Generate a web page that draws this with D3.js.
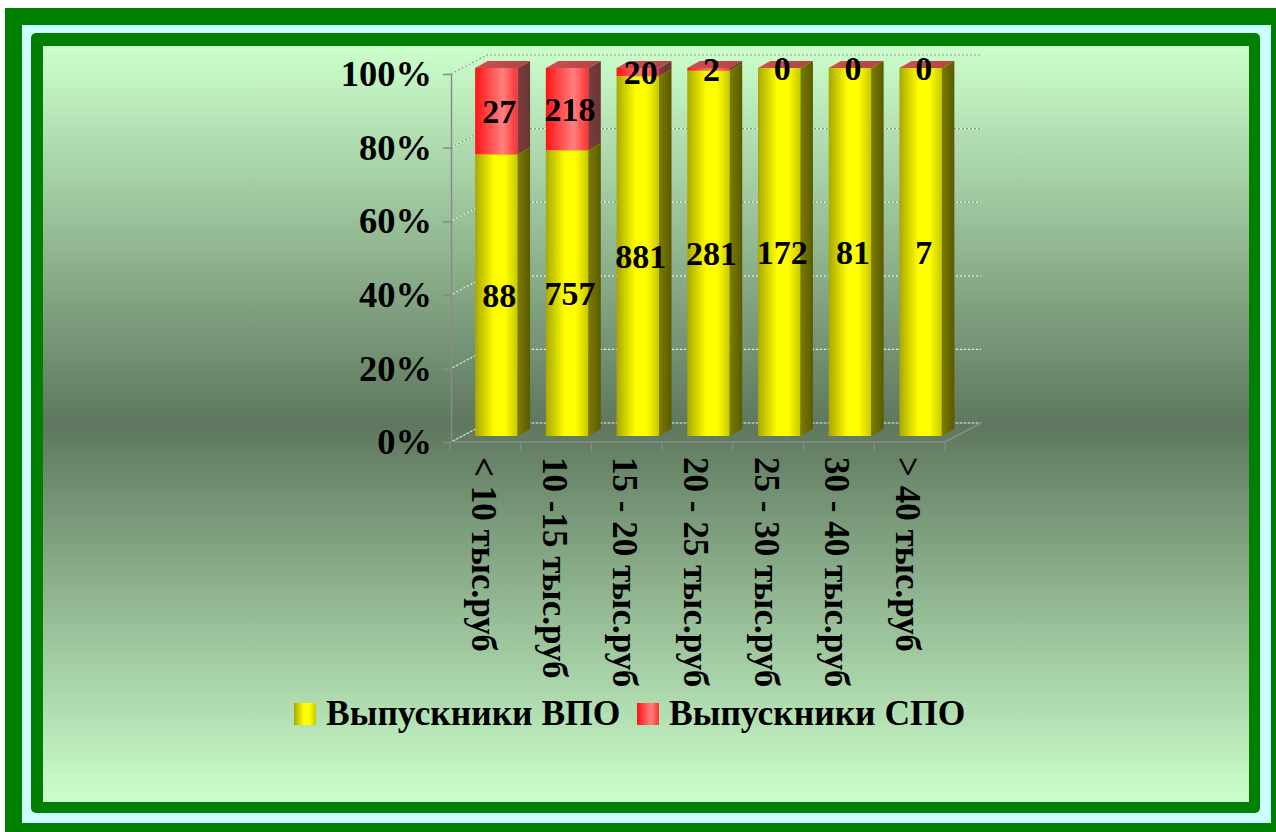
<!DOCTYPE html>
<html lang="ru">
<head>
    <meta charset="UTF-8">
    <title>Выпускники ВПО / СПО</title>
    <script src="https://d3js.org/d3.v7.min.js"></script>
    <style>
        body { margin: 0; background: #fff; }
        text { font-family: "Liberation Serif", "Times New Roman", serif; font-weight: bold; }
    </style>
</head>
<body>
    <svg id="svg" width=1276 height=832>
        <defs></defs>
        <g id="frame"></g>
        <g id="walls"></g>
        <g id="axis"></g>
        <g id="bars"></g>
        <g id="labels"></g>
        <g id="legend"></g>
    </svg>
<script>
    const categories = ["< 10 тыс.руб", "10 -15 тыс.руб", "15 - 20 тыс.руб", "20 - 25 тыс.руб",
        "25 - 30 тыс.руб", "30 - 40 тыс.руб", "> 40 тыс.руб"];
    const vpo = [88, 757, 881, 281, 172, 81, 7];
    const spo = [27, 218, 20, 2, 0, 0, 0];
    const seriesNames = ["Выпускники ВПО", "Выпускники СПО"];
    const yTicks = [0, 0.2, 0.4, 0.6, 0.8, 1];

    const svg = d3.select("#svg");
    const defs = svg.select("defs");

    // 3d offsets: floor depth, bar front offset, bar depth
    const DX = 36, DY = -19;
    const FX = 11, FY = -6;
    const BX = 12.5, BY = -7;

    const x = d3.scaleBand().domain(categories).range([450, 945]);
    const y = d3.scaleLinear().domain([0, 1]).range([442, 74]);
    const bw = x.step() * 0.6;

    function grad(id, stops, vertical) {
        const g = defs.append("linearGradient").attr("id", id)
            .attr("x1", 0).attr("y1", 0).attr("x2", vertical ? 0 : 1).attr("y2", vertical ? 1 : 0);
        stops.forEach(s => g.append("stop").attr("offset", s[0]).attr("stop-color", s[1]));
    }
    grad("bg", [[0, "#ccffcc"], [0.5, "#5e775e"], [1, "#ccffcc"]], true);
    grad("yFront", [[0, "#a8a800"], [0.45, "#ffff00"], [0.7, "#ffff00"], [1, "#c8c800"]]);
    grad("ySide", [[0, "#7c7c00"], [1, "#5a5a00"]]);
    grad("yTop", [[0, "#d8d800"], [1, "#b0b000"]]);
    grad("rFront", [[0, "#ff1414"], [0.65, "#ff8080"], [1, "#ff3030"]]);
    grad("rSide", [[0, "#803c3c"], [1, "#6a3434"]]);
    grad("rTop", [[0, "#d05050"], [1, "#b04444"]]);

    // frame
    const frame = d3.select("#frame");
    frame.append("rect").attr("x", 5).attr("y", 8).attr("width", 1271).attr("height", 824).attr("fill", "#008000");
    frame.append("rect").attr("x", 22).attr("y", 25).attr("width", 1249).attr("height", 798).attr("fill", "#ccffff");
    frame.append("rect").attr("x", 31).attr("y", 33).attr("width", 1229).attr("height", 780).attr("rx", 5).attr("fill", "#008000");
    frame.append("rect").attr("x", 43).attr("y", 46).attr("width", 1206).attr("height", 756).attr("fill", "url(#bg)");

    // walls and floor
    const walls = d3.select("#walls");
    const x0 = x.range()[0], x1 = x.range()[1];
    function dotted(sel, x1_, y1_, x2_, y2_) {
        sel.append("line").attr("x1", x1_).attr("y1", y1_).attr("x2", x2_).attr("y2", y2_)
            .attr("stroke", "#8c9c8c").attr("stroke-width", 1.2).attr("stroke-dasharray", "2,2");
        sel.append("line").attr("x1", x1_).attr("y1", y1_).attr("x2", x2_).attr("y2", y2_)
            .attr("stroke", "#e4f4e4").attr("stroke-width", 1.2).attr("stroke-dasharray", "2,2")
            .attr("stroke-dashoffset", 2);
    }
    yTicks.forEach(t => {
        dotted(walls, x0 + DX, y(t) + DY, x1 + DX, y(t) + DY);
        dotted(walls, x0 + 1, y(t), x0 + 1 + DX, y(t) + DY);
    });
    walls.append("line").attr("x1", x0).attr("y1", y(0)).attr("x2", x1).attr("y2", y(0))
        .attr("stroke", "#8a8a8a").attr("stroke-width", 1.5);
    walls.append("line").attr("x1", x1).attr("y1", y(0)).attr("x2", x1 + DX).attr("y2", y(0) + DY)
        .attr("stroke", "#8a8a8a").attr("stroke-width", 1.5);
    const edges = categories.map(c => x(c)).concat([x1]);
    walls.selectAll(".ftick").data(edges).join("line")
        .attr("x1", d => d).attr("x2", d => d).attr("y1", y(0)).attr("y2", y(0) + 9)
        .attr("stroke", "#8a8a8a").attr("stroke-width", 1.2);

    // y axis
    const axis = d3.select("#axis").attr("transform", `translate(${x0 + 1},0)`)
        .call(d3.axisLeft(y).tickValues(yTicks).tickFormat(d3.format(".0%"))
            .tickSize(8).tickSizeOuter(0).tickPadding(11));
    axis.select(".domain").attr("stroke", "#8a8a8a").attr("stroke-width", 1.5);
    axis.selectAll(".tick line").attr("stroke", "#8a8a8a").attr("stroke-width", 1.5);
    axis.selectAll(".tick text").attr("fill", "#000").attr("font-size", 36.5)
        .attr("font-family", "'Liberation Serif', 'Times New Roman', serif").attr("font-weight", "bold");

    // x labels (rotated)
    d3.select("#labels").selectAll(".xl").data(categories).join("text")
        .attr("transform", d => `translate(${x(d) + x.step() / 2 - 2},${y(0) + 15}) rotate(90)`)
        .attr("dominant-baseline", "central").attr("font-size", 35).text(d => d);

    // stacked bars
    const rows = categories.map((c, i) => ({ cat: c, vpo: vpo[i], spo: spo[i] }));
    const stack = d3.stack().keys(["vpo", "spo"]).offset(d3.stackOffsetExpand)(rows);
    const fills = [["yFront", "ySide", "yTop"], ["rFront", "rSide", "rTop"]];
    const bars = d3.select("#bars");
    const labels = d3.select("#labels");

    categories.forEach((c, i) => {
        const fx = x(c) + (x.step() - bw) / 2 + FX;
        stack.forEach((s, k) => {
            const d = s[i];
            const yt = y(d[1]) + FY, yb = y(d[0]) + FY;
            const g = bars.append("g");
            g.append("rect").attr("x", fx).attr("y", yt).attr("width", bw).attr("height", yb - yt)
                .attr("fill", `url(#${fills[k][0]})`);
            g.append("polygon").attr("points", [[fx + bw, yt], [fx + bw + BX, yt + BY], [fx + bw + BX, yb + BY], [fx + bw, yb]].join(" "))
                .attr("fill", `url(#${fills[k][1]})`);
            g.append("polygon").attr("points", [[fx, yt], [fx + BX, yt + BY], [fx + bw + BX, yt + BY], [fx + bw, yt]].join(" "))
                .attr("fill", `url(#${fills[k][2]})`);
            const val = k === 0 ? vpo[i] : spo[i];
            labels.append("text").attr("x", fx + bw / 2 + 3).attr("y", (yt + yb) / 2)
                .attr("text-anchor", "middle").attr("dominant-baseline", "central")
                .attr("font-size", 34).attr("fill", "#000").text(val);
        });
    });

    // legend
    const legend = d3.select("#legend");
    const legX = [294, 637];
    seriesNames.forEach((n, k) => {
        legend.append("rect").attr("x", legX[k]).attr("y", 703).attr("width", 22).attr("height", 22)
            .attr("fill", `url(#${fills[k][0]})`);
        legend.append("text").attr("x", legX[k] + 32).attr("y", 725).attr("font-size", 35.5).text(n);
    });
</script>
</body>
</html>
